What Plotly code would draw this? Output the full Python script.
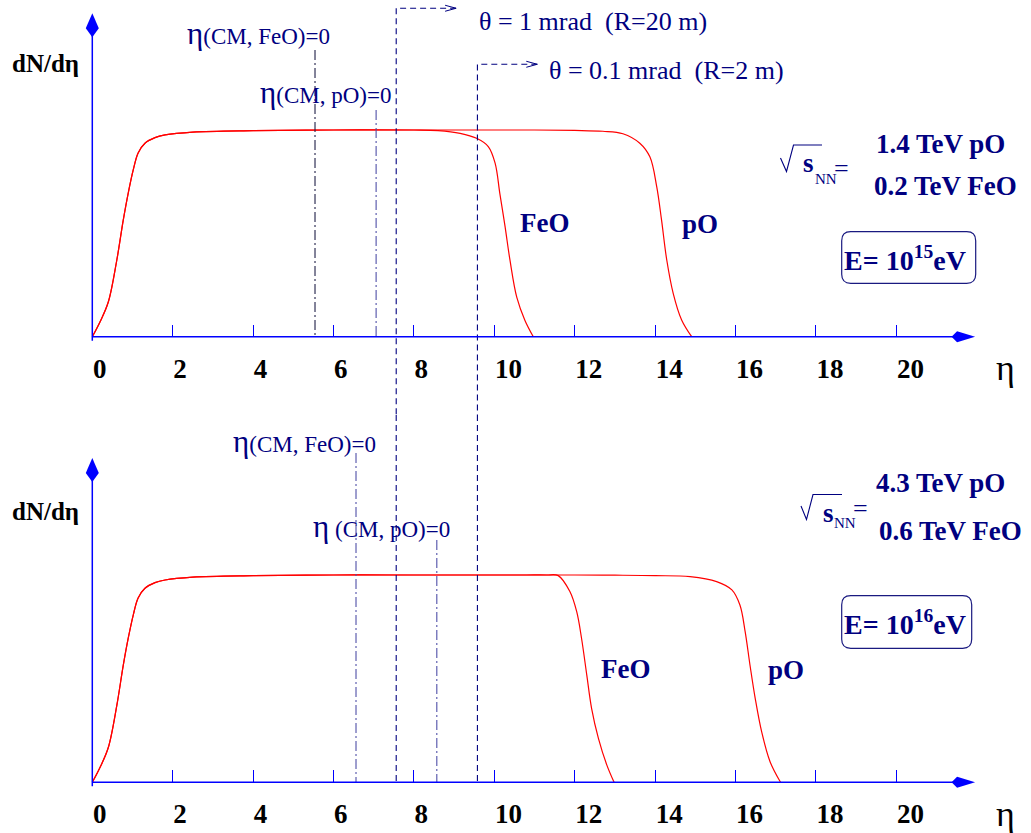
import plotly.graph_objects as go

W, H = 1031, 833

# ---------------------------------------------------------------- data
eta_ticks = [0, 2, 4, 6, 8, 10, 12, 14, 16, 18, 20]
eta_axis_end = 21.96        # end of the eta arrow
dndeta_axis_end = 1.565     # end of the dN/deta arrow

# rising edge and plateau shared by every distribution (dN/deta normalised to 1)
rise_eta = [0.0, 0.20, 0.40, 0.61, 0.77, 0.90, 1.02, 1.14, 1.31, 1.56, 1.81, 2.5, 4.0, 6.0]
rise_val = [0.0, 0.075, 0.169, 0.371, 0.564, 0.701, 0.808, 0.889, 0.936, 0.963, 0.976, 0.99, 0.997, 1.0]

# E = 10^15 eV : falling edges
feo15_eta = [8.0, 8.6, 9.15, 9.56, 9.85, 10.02, 10.14, 10.27, 10.39, 10.56, 10.76, 10.97]
feo15_val = [1.0, 0.997, 0.984, 0.96, 0.92, 0.84, 0.69, 0.53, 0.37, 0.19, 0.08, 0.0]
po15_eta = [8.0, 9.5, 11.0, 12.0, 12.7, 13.2, 13.62, 13.87, 14.04, 14.16, 14.29, 14.45, 14.66, 14.91]
po15_val = [1.0, 1.0, 1.0, 0.998, 0.994, 0.982, 0.936, 0.87, 0.726, 0.565, 0.371, 0.21, 0.081, 0.0]

# E = 10^16 eV : falling edges
feo16_eta = [8.0, 9.0, 10.0, 10.8, 11.3, 11.59, 11.88, 12.05, 12.17, 12.30, 12.42, 12.59, 12.80, 12.98]
feo16_val = [1.0, 1.0, 1.0, 1.0, 1.0, 0.997, 0.92, 0.823, 0.695, 0.518, 0.357, 0.212, 0.083, 0.0]
po16_eta = [8.0, 10.0, 12.0, 13.0, 14.0, 14.87, 15.53, 15.91, 16.11, 16.24, 16.36, 16.49, 16.65, 16.86, 17.12]
po16_val = [1.0, 1.0, 1.0, 0.999, 0.997, 0.992, 0.968, 0.928, 0.855, 0.727, 0.566, 0.405, 0.244, 0.099, 0.0]

# forward acceptance limits
theta_eta = [7.56, 9.58]
theta_labels = ["θ = 1 mrad&nbsp;&nbsp;(R=20 m)", "θ = 0.1 mrad&nbsp;&nbsp;(R=2 m)"]

# centre-of-mass pseudorapidities
cm15 = {"FeO": 5.54, "pO": 7.06}
cm16 = {"FeO": 6.56, "pO": 8.57}

energy_exp = ["15", "16"]
sqrt_s_text = [["1.4 TeV pO", "0.2 TeV FeO"], ["4.3 TeV pO", "0.6 TeV FeO"]]

# ---------------------------------------------------------------- geometry / style
X0_PX, PX_PER_ETA = 92.3, 40.2
panels = [
    dict(axis_py=336.7, unit_px=206.7, rows=(0, 415)),
    dict(axis_py=782.3, unit_px=207.3, rows=(415, 833)),
]
RED = "#ff0000"
BLUE = "#0000ff"
NAVY = "#000080"
SERIF = "Liberation Serif"
DASH = "6px,4px"
DASHDOT = "10px,3px,2px,3px"


def pap(px, py):
    return px / W, 1 - py / H


def ppath(points, close=False):
    s = ""
    for i, (px, py) in enumerate(points):
        x, y = pap(px, py)
        s += ("M" if i == 0 else "L") + f"{x:.5f},{y:.5f} "
    return s + ("Z" if close else "")


def rounded_box(x0, y0, x1, y1, r):
    def p(px, py):
        x, y = pap(px, py)
        return f"{x:.5f},{y:.5f}"
    return (f"M{p(x0 + r, y0)} L{p(x1 - r, y0)} Q{p(x1, y0)} {p(x1, y0 + r)} "
            f"L{p(x1, y1 - r)} Q{p(x1, y1)} {p(x1 - r, y1)} L{p(x0 + r, y1)} "
            f"Q{p(x0, y1)} {p(x0, y1 - r)} L{p(x0, y0 + r)} Q{p(x0, y0)} {p(x0 + r, y0)} Z")


fig = go.Figure()
annotations = []
shapes = []


def text(txt, px, py, size, color=NAVY, bold=False, xanchor="left"):
    x, y = pap(px, py)
    annotations.append(dict(
        text=txt, x=x, y=y, xref="paper", yref="paper", xanchor=xanchor,
        yanchor="middle", showarrow=False,
        font=dict(family=SERIF, size=size, color=color,
                  weight="bold" if bold else "normal")))


layout_axes = {}
for i, pan in enumerate(panels):
    sfx = "" if i == 0 else str(i + 1)
    r0, r1 = pan["rows"]
    u = pan["unit_px"]
    layout_axes["xaxis" + sfx] = dict(
        domain=[0, 1], range=[-X0_PX / PX_PER_ETA, (W - X0_PX) / PX_PER_ETA],
        anchor="free", position=1 - pan["axis_py"] / H,
        tickvals=eta_ticks, ticktext=[str(t) for t in eta_ticks],
        ticks="inside", ticklen=12, tickwidth=1.2, tickcolor=BLUE,
        ticklabelposition="outside right", ticklabelstandoff=13,
        tickfont=dict(family=SERIF, size=27, color="black", weight="bold"),
        showline=False, showgrid=False, zeroline=False, fixedrange=True)
    layout_axes["yaxis" + sfx] = dict(
        domain=[1 - r1 / H, 1 - r0 / H],
        range=[(pan["axis_py"] - r1) / u, (pan["axis_py"] - r0) / u],
        anchor="x" + sfx, showticklabels=False, ticks="",
        showline=False, showgrid=False, zeroline=False, fixedrange=True)

xrefs = ["x", "x2"]
yrefs = ["y", "y2"]

# ---- distributions
curves = [
    [(feo15_eta, feo15_val), (po15_eta, po15_val)],
    [(feo16_eta, feo16_val), (po16_eta, po16_val)],
]
for i, pair in enumerate(curves):
    for eta_fall, val_fall in pair:
        fig.add_trace(go.Scatter(
            x=rise_eta + eta_fall, y=rise_val + val_fall, mode="lines",
            line=dict(color=RED, width=1.2, shape="spline", smoothing=1.0),
            xaxis=xrefs[i], yaxis=yrefs[i], hoverinfo="skip", showlegend=False))

# ---- acceptance limit lines, running through both panels
theta_top = [1.589, 1.318]      # height where the horizontal arrow starts (top panel units)
arrow_len = 1.49
for k, te in enumerate(theta_eta):
    ylo_top = layout_axes["yaxis"]["range"][0]
    fig.add_trace(go.Scatter(
        x=[te + arrow_len, te, te], y=[theta_top[k], theta_top[k], ylo_top],
        mode="lines", line=dict(color=NAVY, width=1.1, dash=DASH),
        xaxis="x", yaxis="y", hoverinfo="skip", showlegend=False))
    yhi_bot = layout_axes["yaxis2"]["range"][1]
    fig.add_trace(go.Scatter(
        x=[te, te], y=[yhi_bot, 0], mode="lines",
        line=dict(color=NAVY, width=1.1, dash=DASH),
        xaxis="x2", yaxis="y2", hoverinfo="skip", showlegend=False))
    shapes.append(dict(type="path", xref="x", yref="y", xsizemode="pixel", ysizemode="pixel",
                       xanchor=te + arrow_len, yanchor=theta_top[k],
                       path="M-11,3 L0,0 L-11,-3", line=dict(color=NAVY, width=1),
                       fillcolor="rgba(0,0,0,0)"))

text(theta_labels[0], 476.7, 21.5, 26)
text(theta_labels[1], 546.7, 70.5, 26)

# ---- centre-of-mass lines
cm_sets = [cm15, cm16]
cm_tops = [{"FeO": 1.387, "pO": 1.097}, {"FeO": 1.589, "pO": 1.169}]
cm_colors = [{"FeO": "#202048", "pO": "#5050a8"}, {"FeO": "#5050a8", "pO": "#5050a8"}]
for i in range(2):
    for sysname in ["FeO", "pO"]:
        e = cm_sets[i][sysname]
        fig.add_trace(go.Scatter(
            x=[e, e], y=[cm_tops[i][sysname], 0], mode="lines",
            line=dict(color=cm_colors[i][sysname], width=1.1, dash=DASHDOT),
            xaxis=xrefs[i], yaxis=yrefs[i], hoverinfo="skip", showlegend=False))

cm_label = "<span style='font-size:31px'>η</span>&nbsp;(CM, {})=0"
cm_label_fe = "<span style='font-size:31px'>η</span>(CM, {})=0"
text(cm_label_fe.format("FeO"), 185, 33, 23)
text(cm_label_fe.format("pO"), 258, 92.5, 23)
text(cm_label_fe.format("FeO"), 231, 441, 23)
text(cm_label.format("pO"), 311, 526, 23)

# ---- axes with arrow heads
for i, pan in enumerate(panels):
    xr, yr = xrefs[i], yrefs[i]
    shapes.append(dict(type="line", xref=xr, yref=yr, x0=0, y0=0, x1=eta_axis_end - 0.4, y1=0,
                       line=dict(color=BLUE, width=1.5)))
    shapes.append(dict(type="line", xref=xr, yref=yr, x0=0, y0=-4 / pan["unit_px"], x1=0,
                       y1=dndeta_axis_end - 0.08, line=dict(color=BLUE, width=1.5)))
    shapes.append(dict(type="path", xref=xr, yref=yr, xsizemode="pixel", ysizemode="pixel",
                       xanchor=eta_axis_end, yanchor=0,
                       path="M0,0 L-18,5.5 L-23.5,0 L-18,-5.5 Z",
                       fillcolor=BLUE, line=dict(width=0)))
    shapes.append(dict(type="path", xref=xr, yref=yr, xsizemode="pixel", ysizemode="pixel",
                       xanchor=0, yanchor=dndeta_axis_end,
                       path="M0,0 L6.5,-15 L0,-24 L-6.5,-15 Z",
                       fillcolor=BLUE, line=dict(width=0)))

    dy = pan["axis_py"] - panels[0]["axis_py"]
    text("dN/dη", 45, 64 + dy + (1.5 if i else 0), 25, color="black", bold=True, xanchor="center")
    text("η", 1005, 368 + dy, 36, color="black", xanchor="center")

# ---- species labels
text("FeO", 517.5, 222.5, 27, bold=True)
text("pO", 679.5, 224, 27, bold=True)
text("FeO", 598.5, 669, 27, bold=True)
text("pO", 765.5, 670, 27, bold=True)

# ---- sqrt(s_NN) blocks
sq = [dict(rad=[(780.5, 158), (786.5, 171.5), (793.5, 145), (822, 145)],
           s=(800.5, 163), nn=(812.5, 179.5), eq=(831.5, 168.5),
           l1=(874, 143.5), l2=(872, 186)),
      dict(rad=[(801, 506), (806.5, 519.5), (813, 494.5), (842, 494.5)],
           s=(820.5, 512.5), nn=(831.5, 522.5), eq=(850.5, 508.5),
           l1=(874, 483.5), l2=(877, 530.5))]
for i, b in enumerate(sq):
    shapes.append(dict(type="path", xref="paper", yref="paper", path=ppath(b["rad"]),
                       line=dict(color=NAVY, width=1.1), fillcolor="rgba(0,0,0,0)"))
    text("s", *b["s"], 27, bold=True)
    text("NN", *b["nn"], 15)
    text("=", *b["eq"], 26)
    text(sqrt_s_text[i][0], *b["l1"], 27, bold=True)
    text(sqrt_s_text[i][1], *b["l2"], 27, bold=True)

# ---- beam-energy boxes
boxes = [(841.7, 231.7, 975.7, 283.3), (841.7, 595.7, 971.7, 648.3)]
for i, (bx0, by0, bx1, by1) in enumerate(boxes):
    shapes.append(dict(type="path", xref="paper", yref="paper",
                       path=rounded_box(bx0, by0, bx1, by1, 9),
                       line=dict(color="#1a1a80", width=1.2), fillcolor="rgba(0,0,0,0)"))
    text(f"E= 10<sup>{energy_exp[i]}</sup>eV", bx0, (by0 + by1) / 2 + 0.5, 28, bold=True)

fig.update_layout(
    width=W, height=H, margin=dict(l=0, r=0, t=0, b=0),
    paper_bgcolor="white", plot_bgcolor="white",
    font=dict(family=SERIF), showlegend=False,
    annotations=annotations, shapes=shapes, **layout_axes)

fig.write_html("out.html", config={"displayModeBar": False})
